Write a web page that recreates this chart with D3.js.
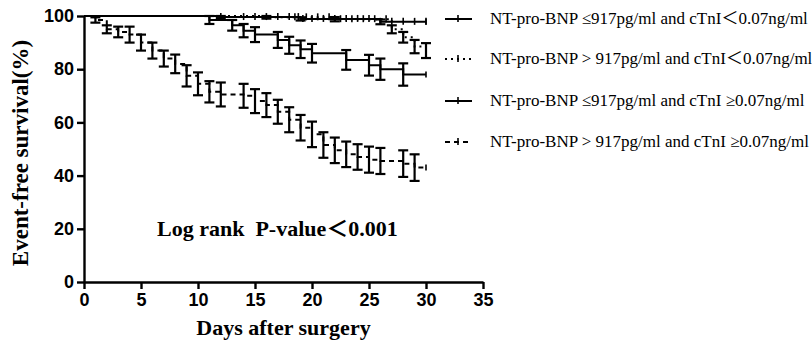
<!DOCTYPE html>
<html>
<head>
<meta charset="utf-8">
<script src="https://cdn.jsdelivr.net/npm/d3@7.9.0/dist/d3.min.js"></script>
<style>
  body { margin: 0; background: #fff; }
  svg { display: block; }
  .axis .tick text { font-family: "Liberation Sans", Arial, sans-serif; font-weight: bold; font-size: 18px; fill: #000; }
  .axis path, .axis line { stroke: #000; stroke-width: 2.4; }
  .serif { font-family: "Liberation Serif", "Times New Roman", "Noto Sans CJK SC", serif; fill: #000; }
</style>
</head>
<body>
<svg id="chart" width="812" height="345"></svg>
<script>
// group 1: NT-pro-BNP <=917 and cTnI <0.07
const g1Days = [12, 19, 26];
const g1Surv = [99.6, 98.9, 97.8];
const g1Err = [0.4, 0.6, 0.9];
const g1Censor = [12, 14, 15, 16, 17, 18, 18.8, 19.2, 20, 21, 22, 23, 24, 25, 26, 27, 28, 29, 30];

// group 2: NT-pro-BNP >917 and cTnI <0.07
const g2Days = [16, 22, 27, 28, 29, 30];
const g2Surv = [99.5, 98.8, 95, 92, 88.5, 87];
const g2Err = [0.5, 0.8, 1.5, 2, 2.5, 2.8];
const g2Censor = [18.5, 19.5, 20.5, 21.5, 22.5, 23.5, 24.5, 25.5, 26.5];

// group 3: NT-pro-BNP <=917 and cTnI >=0.07
const g3Days = [11, 13, 14, 15, 17, 18, 19, 20, 23, 25, 26, 28];
const g3Surv = [98.5, 96.5, 94.5, 93, 91, 89, 87.5, 86, 83.5, 81.5, 80, 78];
const g3Err = [1.5, 2, 2.5, 2.8, 3, 3.2, 3.3, 3.5, 3.7, 3.9, 4, 4.2];

// group 4: NT-pro-BNP >917 and cTnI >=0.07
const g4Days = [1, 2, 3, 4, 5, 6, 7, 8, 9, 10, 11, 12, 14, 15, 16, 17, 18, 19, 20, 21, 22, 23, 24, 25, 26, 28, 29];
const g4Surv = [98.5, 95, 94, 93, 90, 87, 84, 82, 77.5, 74.5, 71.5, 70.5, 70, 68, 66.5, 64, 61, 58, 55.5, 51.5, 49.5, 48, 47, 46, 45.5, 44.5, 43];
const g4Err = [1, 1.5, 2, 3, 3, 3, 3, 3.5, 4, 4.3, 4, 4.5, 4.5, 4.5, 4.5, 4.5, 4.7, 4.8, 4.8, 4.8, 4.8, 4.8, 4.8, 4.9, 4.9, 5, 5];

const legendLabels = [
  "NT-pro-BNP \u2264917pg/ml and cTnI\uFF1C0.07ng/ml",
  "NT-pro-BNP > 917pg/ml and cTnI\uFF1C0.07ng/ml",
  "NT-pro-BNP \u2264917pg/ml and cTnI \u22650.07ng/ml",
  "NT-pro-BNP > 917pg/ml and cTnI \u22650.07ng/ml",
];
const xTicks = [0, 5, 10, 15, 20, 25, 30, 35];
const yTicks = [0, 20, 40, 60, 80, 100];
const endDay = 30;

const svg = d3.select("#chart");
const x = d3.scaleLinear().domain([0, 35]).range([84, 483]);
const y = d3.scaleLinear().domain([0, 100]).range([282, 16]);

const groups = [
  { days: g1Days, surv: g1Surv, err: g1Err, censor: g1Censor, dash: null },
  { days: g2Days, surv: g2Surv, err: g2Err, censor: g2Censor, dash: "2,4" },
  { days: g3Days, surv: g3Surv, err: g3Err, censor: [], dash: null },
  { days: g4Days, surv: g4Surv, err: g4Err, censor: [], dash: "5,4" },
];

// axes
svg.append("g").attr("class", "axis")
  .attr("transform", `translate(0,${y(0)})`)
  .call(d3.axisBottom(x).tickValues(xTicks).tickSize(7).tickSizeOuter(0).tickPadding(4));
svg.append("g").attr("class", "axis")
  .attr("transform", `translate(${x(0)},0)`)
  .call(d3.axisLeft(y).tickValues(yTicks).tickSize(7).tickSizeOuter(0).tickPadding(3));

const step = d3.line().curve(d3.curveStepAfter).x(d => x(d[0])).y(d => y(d[1]));

function survAt(g, t) {
  let v = 100;
  g.days.forEach((d, i) => { if (d <= t) v = g.surv[i]; });
  return v;
}

groups.forEach(g => {
  const pts = [[0, 100]].concat(g.days.map((d, i) => [d, g.surv[i]]));
  pts.push([endDay, g.surv[g.surv.length - 1]]);
  svg.append("path")
    .attr("d", step(pts))
    .attr("fill", "none")
    .attr("stroke", "#000")
    .attr("stroke-width", 2)
    .attr("stroke-dasharray", g.dash);

  // error bars
  const eb = svg.append("g").attr("stroke", "#000").attr("stroke-width", 2.2);
  g.days.forEach((d, i) => {
    const cx = x(d), y0 = y(g.surv[i] - g.err[i]), y1 = y(g.surv[i] + g.err[i]);
    eb.append("line").attr("x1", cx).attr("x2", cx).attr("y1", y0).attr("y2", y1);
    eb.append("line").attr("x1", cx - 5).attr("x2", cx + 5).attr("y1", y0).attr("y2", y0);
    eb.append("line").attr("x1", cx - 5).attr("x2", cx + 5).attr("y1", y1).attr("y2", y1);
  });

  // censor ticks
  g.censor.forEach(c => {
    const v = y(survAt(g, c));
    svg.append("line").attr("x1", x(c)).attr("x2", x(c))
      .attr("y1", v - 4).attr("y2", v + 3)
      .attr("stroke", "#000").attr("stroke-width", 1.6);
  });
  // end tick
  const last = y(g.surv[g.surv.length - 1]);
  svg.append("line").attr("x1", x(endDay)).attr("x2", x(endDay))
    .attr("y1", last - 3).attr("y2", last + 3)
    .attr("stroke", "#000").attr("stroke-width", 1.6);
});

// legend
const legY = [19, 59, 101, 142];
groups.forEach((g, i) => {
  const lg = svg.append("g").attr("transform", `translate(0,${legY[i]})`);
  lg.append("line").attr("x1", 445).attr("x2", 472).attr("y1", 0).attr("y2", 0)
    .attr("stroke", "#000").attr("stroke-width", 2).attr("stroke-dasharray", g.dash);
  lg.append("line").attr("x1", 458).attr("x2", 458).attr("y1", -4).attr("y2", 3)
    .attr("stroke", "#000").attr("stroke-width", 1.6);
  lg.append("text").attr("class", "serif")
    .attr("x", 490).attr("y", 5)
    .style("font-size", "17px")
    .text(legendLabels[i]);
});

// titles
svg.append("text").attr("class", "serif")
  .attr("transform", `translate(28,${(y(0) + y(100)) / 2 + 4}) rotate(-90)`)
  .attr("text-anchor", "middle")
  .style("font-size", "23px").style("font-weight", "bold")
  .text("Event-free survival(%)");

svg.append("text").attr("class", "serif")
  .attr("x", (x(0) + x(35)) / 2).attr("y", 335)
  .attr("text-anchor", "middle")
  .style("font-size", "22px").style("font-weight", "bold")
  .text("Days after surgery");

svg.append("text").attr("class", "serif")
  .attr("x", 157).attr("y", 236)
  .style("font-size", "22px").style("font-weight", "bold").style("white-space", "pre")
  .text("Log rank  P-value\uFF1C0.001");
</script>
</body>
</html>
